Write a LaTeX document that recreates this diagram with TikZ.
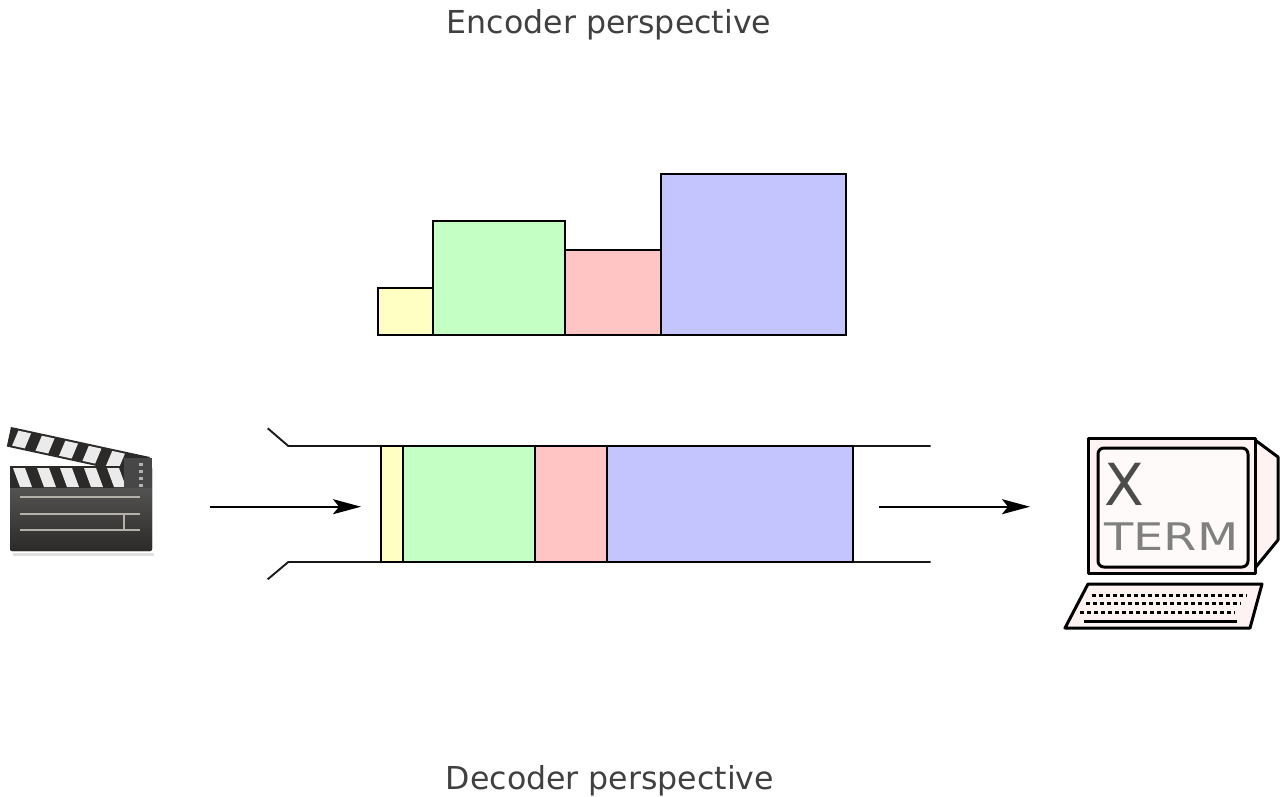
\documentclass[tikz,border=0pt]{standalone}
\usepackage{fontspec}
\setmainfont{DejaVu Sans}
\usetikzlibrary{arrows.meta}
\definecolor{labelgray}{HTML}{404040}
\definecolor{pktyellow}{HTML}{FFFFC4}
\definecolor{pktgreen}{HTML}{C4FFC4}
\definecolor{pktred}{HTML}{FFC4C4}
\definecolor{pktblue}{HTML}{C4C4FF}
\definecolor{clapdark}{HTML}{2C2A28}
\definecolor{clapline}{HTML}{B4B0AA}
\definecolor{termpink}{HTML}{FFF2F2}
\begin{document}
\begin{tikzpicture}[x=1pt,y=-1pt,
  caption/.style={font=\fontsize{31.6}{36}\selectfont, text=labelgray, anchor=base, inner sep=0pt},
  packet/.style={draw=black, line width=1.9pt},
  pipe/.style={draw=black!90, line width=1.9pt},
  flow/.style={line width=2pt, -{Stealth[length=28pt,width=15pt,inset=6pt]}},
  termline/.style={line width=3pt, line join=round}]
\useasboundingbox (0,0) rectangle (1285,797);

% captions
\node[caption] (enc) at (609,33.3) {Encoder perspective};
\node[caption] (dec) at (610,789) {Decoder perspective};

% bit budget per frame, as the encoder sees it
\draw[packet, fill=pktyellow] (378,288) rectangle (433,335);
\draw[packet, fill=pktgreen]  (433,221) rectangle (565,335);
\draw[packet, fill=pktred]    (565,250) rectangle (661,335);
\draw[packet, fill=pktblue]   (661,174) rectangle (846,335);

% channel pipe carrying the frames
\draw[pipe] (267.7,428.3) -- (288.3,446) -- (930.7,446);
\draw[pipe] (267.7,579.3) -- (288.3,562) -- (930.7,562);
\draw[packet, fill=pktyellow] (381,446) rectangle (403,562);
\draw[packet, fill=pktgreen]  (403,446) rectangle (535,562);
\draw[packet, fill=pktred]    (535,446) rectangle (607,562);
\draw[packet, fill=pktblue]   (607,446) rectangle (853,562);

% flow arrows
\coordinate (inS)  at (210,506.7);
\coordinate (inE)  at (361,506.7);
\coordinate (outS) at (879,506.7);
\coordinate (outE) at (1030,506.7);
\draw[flow] (inS) -- (inE);
\draw[flow] (outS) -- (outE);

% clapperboard (video source)
\fill[black!12] (13,553) rectangle (154,556);
\begin{scope}[shift={(11,427)}, rotate=-12.2]
  \fill[clapdark] (0,0) rectangle (142,20);
  \foreach \a in {8,32,56,80,104}
    \fill[white!92!black] (\a,2) -- (\a+13,2) -- (\a+10,18) -- (\a-3,18) -- cycle;
\end{scope}
\fill[top color=black!62, bottom color=clapdark, rounded corners=2pt] (10,466) rectangle (152,551);
\fill[clapdark] (10,466) rectangle (152,488);
\foreach \a in {13,37,60,84,107}
  \fill[white!92!black] (\a,468) -- (\a+12,468) -- (\a+19,487) -- (\a+7,487) -- cycle;
\fill[black!72] (124,458) rectangle (152,488);
\foreach \dy in {463,470,477,484}
  \fill[black!30] (139,\dy) rectangle (143,\dy+3);
\draw[clapline, line width=1.8pt] (20,497) -- (140,497);
\draw[clapline, line width=1.8pt] (20,514) -- (140,514);
\draw[clapline, line width=1.8pt] (20,530) -- (140,530);
\draw[clapline, line width=1.6pt] (124,514) -- (124,530);
\coordinate (clap) at (81,490);

% terminal (display)
\draw[termline, fill=termpink] (1255,440) -- (1278,457) -- (1278,540) -- (1255,568) -- cycle;
\draw[termline, fill=termpink] (1088,438) rectangle (1255,573);
\draw[termline, fill=white!60!termpink, rounded corners=6pt] (1098,448) rectangle (1248,567);
\node[font=\fontsize{58}{58}\selectfont, text=black!70, inner sep=0pt, anchor=base west] (xlbl) at (1104,505) {X};
\node[font=\fontsize{38}{38}\selectfont, text=black!50, inner sep=0pt, anchor=base west, xscale=1.26] (termlbl) at (1104,550) {TERM};
\draw[termline, fill=termpink] (1088,584) -- (1262,584) -- (1250,628) -- (1065,628) -- cycle;
\foreach \ry/\rx in {595/1092,603/1086,612/1080}
  \draw[line width=3pt, dash pattern=on 4pt off 3pt] (\rx,\ry) -- (\rx+155,\ry);
\draw[line width=2.6pt] (1084,621.5) -- (1237,621.5);
\coordinate (term) at (1170,530);
\end{tikzpicture}
\end{document}
